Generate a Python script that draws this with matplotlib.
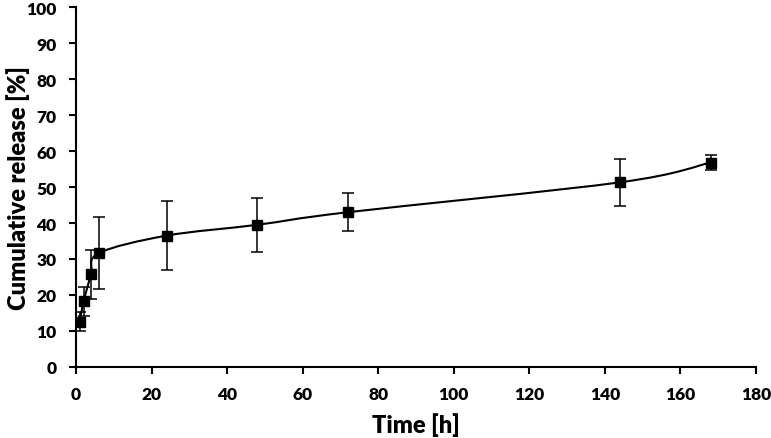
import matplotlib
matplotlib.use("Agg")
import matplotlib.pyplot as plt
import numpy as np
from matplotlib.path import Path
from matplotlib.patches import PathPatch

time_h = [1, 2, 4, 6, 24, 48, 72, 144, 168]
release = [12.6, 18.2, 25.7, 31.6, 36.5, 39.5, 43.0, 51.3, 56.8]
err = [2.6, 4.0, 6.8, 10.0, 9.5, 7.5, 5.3, 6.5, 2.2]

plt.rcParams['font.family'] = ['Lato', 'DejaVu Sans']
plt.rcParams['font.weight'] = 'heavy'

fig = plt.figure(figsize=(7.71, 4.39), dpi=100)
ax = fig.add_axes([76/771, 1-368/439, (756-76)/771, (368-8)/439])

# Excel-style smoothed line (cardinal Bezier)
x = np.array(time_h, float); y = np.array(release, float)
verts = [(x[0], y[0])]
codes = [Path.MOVETO]
n = len(x)
t = 1/6
for i in range(n-1):
    p0 = (x[i-1], y[i-1]) if i > 0 else (x[i], y[i])
    p1 = (x[i], y[i]); p2 = (x[i+1], y[i+1])
    p3 = (x[i+2], y[i+2]) if i+2 < n else (x[i+1], y[i+1])
    c1 = (p1[0] + (p2[0]-p0[0])*t, p1[1] + (p2[1]-p0[1])*t)
    c2 = (p2[0] - (p3[0]-p1[0])*t, p2[1] - (p3[1]-p1[1])*t)
    verts += [c1, c2, p2]
    codes += [Path.CURVE4]*3
ax.add_patch(PathPatch(Path(verts, codes), fill=False, color='black', lw=1.5, zorder=2))

ax.errorbar(time_h, release, yerr=err, fmt='s', color='black', ms=6.5,
            ecolor='black', elinewidth=1.1, capsize=4, capthick=1.1, zorder=3)

ax.set_xlim(0, 180)
ax.set_ylim(0, 100)
ax.set_xticks(range(0, 181, 20))
ax.set_yticks(range(0, 101, 10))
for s in ['top', 'right']:
    ax.spines[s].set_visible(False)
for s in ['left', 'bottom']:
    ax.spines[s].set_linewidth(1.5)
ax.tick_params(direction='out', length=5, width=1.5, labelsize=12.5, pad=9)
for lab in ax.get_xticklabels() + ax.get_yticklabels():
    lab.set_fontweight('heavy')
ax.set_xlabel('Time [h]', fontsize=17, fontweight='heavy', va='center')
ax.set_ylabel('Cumulative release [%]', fontsize=17, fontweight='heavy', va='center')
ax.xaxis.set_label_coords(0.5, (14 - 71) / 360)
ax.yaxis.set_label_coords((18 - 76) / 680, 0.5)

fig.savefig('out.png', dpi=100)
